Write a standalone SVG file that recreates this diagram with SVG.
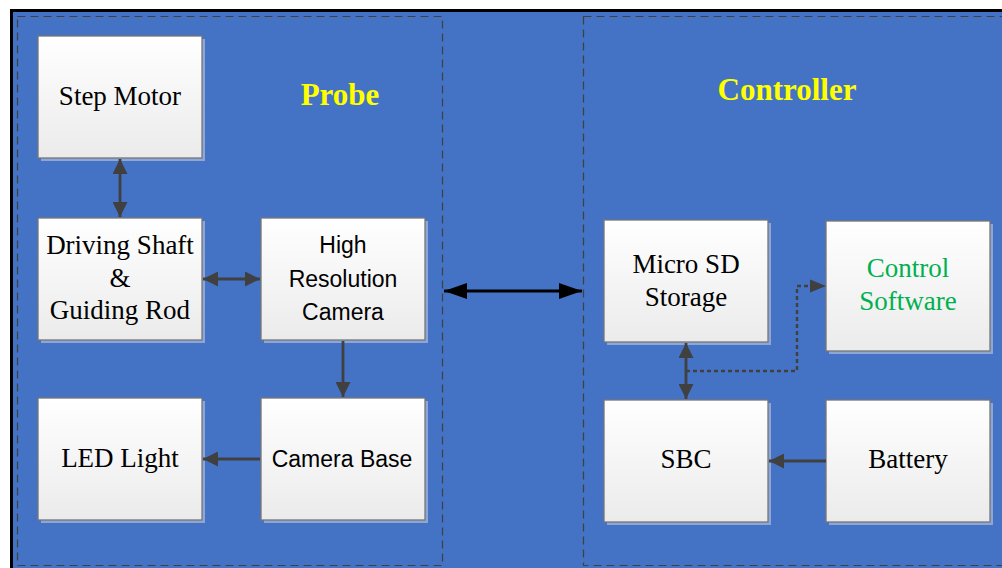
<svg xmlns="http://www.w3.org/2000/svg" width="1002" height="568" viewBox="0 0 1002 568">
<defs>
<linearGradient id="g" x1="0" y1="0" x2="0" y2="1">
<stop offset="0" stop-color="#FFFFFF"/>
<stop offset="1" stop-color="#EBEBEB"/>
</linearGradient>
<marker id="a" viewBox="0 0 10 10" refX="10" refY="5" markerWidth="15" markerHeight="15" markerUnits="userSpaceOnUse" orient="auto-start-reverse">
<path d="M0,0 L10,5 L0,10 Z" fill="#404040"/>
</marker>
<marker id="ab" viewBox="0 0 10 10" refX="10" refY="5" markerWidth="23" markerHeight="16" markerUnits="userSpaceOnUse" orient="auto-start-reverse" preserveAspectRatio="none">
<path d="M0,0 L10,5 L0,10 Z" fill="#000"/>
</marker>
<style>
.sh{fill:#8EA6D6}
.bx{fill:url(#g);stroke:#767676;stroke-width:1.3}
.zone{fill:none;stroke:#404040;stroke-width:1.2;stroke-dasharray:8 5}
.ser{font-family:"Liberation Serif","Times New Roman",serif;font-size:27px;fill:#000;text-anchor:middle}
.san{font-family:"Liberation Sans",Arial,sans-serif;font-size:23px;fill:#000;text-anchor:middle}
.ttl{font-family:"Liberation Serif","Times New Roman",serif;font-size:31px;font-weight:bold;fill:#FFFF00;text-anchor:middle}
.grn{fill:#00B050}
.c{fill:none;stroke:#404040;stroke-width:2.8}
</style>
</defs>
<rect x="0" y="0" width="1002" height="568" fill="#FFFFFF"/>
<rect x="11.5" y="10.5" width="1000" height="570" fill="#4472C4" stroke="#000" stroke-width="3"/>
<g id="probe-zone">
<rect class="zone" x="17.5" y="16.5" width="425" height="549"/>
<text class="ttl" x="340" y="105">Probe</text>
</g>
<g id="controller-zone">
<rect class="zone" x="583.5" y="16.5" width="430" height="549"/>
<text class="ttl" x="787" y="100">Controller</text>
</g>
<g id="step-motor">
<rect class="sh" x="41" y="39" width="164" height="122"/>
<rect class="bx" x="38" y="36" width="164" height="122"/>
<text class="ser" x="120" y="105">Step Motor</text>
</g>
<g id="driving-shaft">
<rect class="sh" x="41" y="221" width="164" height="122"/>
<rect class="bx" x="38" y="218" width="164" height="122"/>
<text class="ser" x="120" y="254">Driving Shaft</text>
<text class="ser" x="120" y="287">&amp;</text>
<text class="ser" x="120" y="319">Guiding Rod</text>
</g>
<g id="hr-camera">
<rect class="sh" x="264" y="221" width="164" height="122"/>
<rect class="bx" x="261" y="218" width="164" height="122"/>
<text class="san" x="343" y="253">High</text>
<text class="san" x="343" y="287">Resolution</text>
<text class="san" x="343" y="320">Camera</text>
</g>
<g id="led-light">
<rect class="sh" x="41" y="401" width="164" height="122"/>
<rect class="bx" x="38" y="398" width="164" height="122"/>
<text class="ser" x="120" y="467">LED Light</text>
</g>
<g id="camera-base">
<rect class="sh" x="264" y="401" width="164" height="122"/>
<rect class="bx" x="261" y="398" width="164" height="122"/>
<text class="san" x="342" y="467">Camera Base</text>
</g>
<g id="micro-sd">
<rect class="sh" x="607" y="223" width="164" height="122"/>
<rect class="bx" x="604" y="220" width="164" height="122"/>
<text class="ser" x="686" y="273">Micro SD</text>
<text class="ser" x="686" y="306">Storage</text>
</g>
<g id="control-software">
<rect class="sh" x="829" y="224" width="164" height="130"/>
<rect class="bx" x="826" y="221" width="164" height="130"/>
<text class="ser grn" x="908" y="277">Control</text>
<text class="ser grn" x="908" y="310">Software</text>
</g>
<g id="sbc">
<rect class="sh" x="607" y="403" width="164" height="122"/>
<rect class="bx" x="604" y="400" width="164" height="122"/>
<text class="ser" x="686" y="468">SBC</text>
</g>
<g id="battery">
<rect class="sh" x="829" y="403" width="164" height="122"/>
<rect class="bx" x="826" y="400" width="164" height="122"/>
<text class="ser" x="908" y="468">Battery</text>
</g>
<g id="connectors">
<line class="c" x1="120" y1="159" x2="120" y2="217" marker-start="url(#a)" marker-end="url(#a)"/>
<line class="c" x1="203" y1="279" x2="260" y2="279" marker-start="url(#a)" marker-end="url(#a)"/>
<line class="c" x1="343" y1="341" x2="343" y2="397" marker-end="url(#a)"/>
<line class="c" x1="260" y1="459" x2="203" y2="459" marker-end="url(#a)"/>
<line x1="444" y1="291" x2="582" y2="291" stroke="#000" stroke-width="2.8" marker-start="url(#ab)" marker-end="url(#ab)"/>
<line class="c" x1="686" y1="343" x2="686" y2="399" marker-start="url(#a)" marker-end="url(#a)"/>
<polyline fill="none" stroke="#404040" stroke-width="2.4" stroke-dasharray="4 3" points="686,371 797,371 797,286 814,286"/>
<path d="M810,279.5 L826,286 L810,292.5 Z" fill="#404040"/>
<line class="c" x1="826" y1="461" x2="769" y2="461" marker-end="url(#a)"/>
</g>
</svg>
